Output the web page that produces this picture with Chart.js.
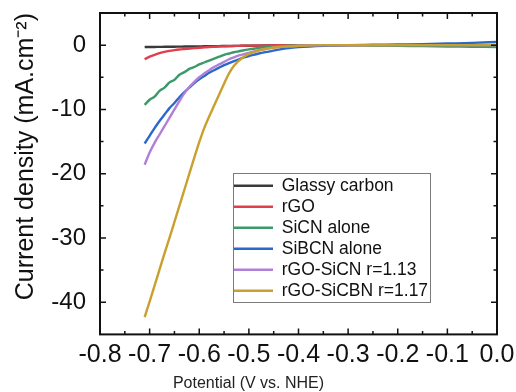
<!DOCTYPE html>
<html>
<head>
<meta charset="utf-8">
<script src="https://cdn.jsdelivr.net/npm/chart.js@4.4.0/dist/chart.umd.min.js"></script>
<style>
  html, body { margin: 0; padding: 0; background: #fff; }
</style>
</head>
<body>
<canvas id="lsv" width="516" height="392"></canvas>
<script>
// potential (V vs. NHE), shared by all sweeps
const potential = [-0.71, -0.70, -0.69, -0.68, -0.67, -0.66, -0.65, -0.64, -0.63, -0.62, -0.61,
  -0.60, -0.59, -0.58, -0.57, -0.56, -0.55, -0.54, -0.53, -0.52, -0.51, -0.50,
  -0.48, -0.46, -0.44, -0.42, -0.40, -0.35, -0.30, -0.25, -0.20, -0.15, -0.10, -0.05, 0.00];

// current density (mA.cm-2)
const glassyCarbon = [-0.30, -0.29, -0.28, -0.27, -0.26, -0.25, -0.24, -0.23, -0.22, -0.21, -0.20,
  -0.19, -0.18, -0.17, -0.16, -0.15, -0.14, -0.13, -0.12, -0.11, -0.10, -0.09,
  -0.07, -0.05, -0.03, -0.02, -0.01, 0, 0, 0, 0, 0, 0, 0, 0];
const rGO = [-2.2, -1.8, -1.5, -1.25, -1.05, -0.9, -0.78, -0.68, -0.6, -0.52, -0.46,
  -0.4, -0.35, -0.3, -0.26, -0.22, -0.19, -0.16, -0.13, -0.11, -0.09, -0.07,
  -0.05, -0.03, -0.02, -0.01, 0, 0, 0, 0, 0, 0, 0, 0, 0];
const sicnAlone = [-9.3, -8.5, -8.0, -7.1, -6.6, -5.8, -5.4, -4.6, -4.2, -3.7, -3.4,
  -3.0, -2.7, -2.4, -2.1, -1.8, -1.5, -1.3, -1.1, -0.95, -0.8, -0.65,
  -0.45, -0.3, -0.15, -0.1, -0.05, 0, 0, -0.05, -0.1, -0.15, -0.2, -0.25, -0.3];
const sibcnAlone = [-15.3, -14.1, -12.9, -11.8, -10.8, -9.8, -9.0, -8.1, -7.3, -6.6, -5.9,
  -5.3, -4.8, -4.3, -3.9, -3.5, -3.1, -2.8, -2.5, -2.2, -1.9, -1.7,
  -1.3, -1.0, -0.7, -0.45, -0.3, -0.1, 0, 0.05, 0.1, 0.15, 0.25, 0.35, 0.5];
const rgoSicn = [-18.6, -16.7, -15.2, -13.9, -12.6, -11.3, -10.0, -8.7, -7.5, -6.5, -5.7,
  -5.0, -4.4, -3.9, -3.4, -3.0, -2.6, -2.2, -1.9, -1.6, -1.4, -1.2,
  -0.8, -0.5, -0.3, -0.2, -0.1, 0, 0, 0, 0, 0, 0, 0, 0];
const rgoSicbn = [-42.3, -39.9, -37.4, -34.9, -32.4, -30.0, -27.5, -25.0, -22.5, -20.0, -17.5,
  -15.1, -12.9, -11.1, -9.4, -7.7, -6.0, -4.4, -3.2, -2.4, -1.8, -1.35,
  -0.8, -0.5, -0.3, -0.2, -0.1, 0, 0, 0, 0, 0, 0, 0, 0];

const seriesNames = ['Glassy carbon', 'rGO', 'SiCN alone', 'SiBCN alone', 'rGO-SiCN r=1.13', 'rGO-SiCBN r=1.17'];
const seriesData = [glassyCarbon, rGO, sicnAlone, sibcnAlone, rgoSicn, rgoSicbn];
const seriesColors = ['#3a3a3a', '#e0404c', '#3d9a68', '#2a68cc', '#b080d8', '#c9a030'];

const xTicks = [-0.8, -0.7, -0.6, -0.5, -0.4, -0.3, -0.2, -0.1, 0.0];
const yTicks = [-40, -30, -20, -10, 0];

const FONT = "'Liberation Sans', Arial, sans-serif";

// frame with inward major/minor ticks on all four sides
const frameTicks = {
  id: 'frameTicks',
  afterDatasetsDraw(chart) {
    const { ctx, chartArea: a, scales } = chart;
    const xs = scales.x, ys = scales.y;
    const major = 6, minor = 3.5;
    ctx.save();
    ctx.strokeStyle = '#111';
    ctx.lineWidth = 1.5;
    ctx.beginPath();
    const vtick = (px, len) => {
      ctx.moveTo(px, a.bottom); ctx.lineTo(px, a.bottom - len);
      ctx.moveTo(px, a.top); ctx.lineTo(px, a.top + len);
    };
    const htick = (py, len) => {
      ctx.moveTo(a.left, py); ctx.lineTo(a.left + len, py);
      ctx.moveTo(a.right, py); ctx.lineTo(a.right - len, py);
    };
    xTicks.forEach((v, i) => {
      vtick(xs.getPixelForValue(v), major);
      if (i > 0) vtick(xs.getPixelForValue((v + xTicks[i - 1]) / 2), minor);
    });
    yTicks.forEach((v, i) => {
      htick(ys.getPixelForValue(v), major);
      if (i > 0) htick(ys.getPixelForValue((v + yTicks[i - 1]) / 2), minor);
    });
    ctx.stroke();
    ctx.lineWidth = 2;
    ctx.strokeRect(a.left, a.top, a.right - a.left, a.bottom - a.top);
    ctx.restore();
  }
};

// move the legend into the plot and give it a frame
const legendBox = {
  id: 'legendBox',
  afterLayout(chart) {
    chart.legend.left = 230.5;
    chart.legend.top = 173.5;
  },
  beforeDatasetsDraw(chart) {
    const ctx = chart.ctx;
    ctx.save();
    ctx.strokeStyle = '#7a7a7a';
    ctx.lineWidth = 1;
    ctx.strokeRect(233.5, 173.5, 197, 129);
    ctx.restore();
  }
};

new Chart(document.getElementById('lsv'), {
  type: 'line',
  data: {
    datasets: seriesNames.map((name, i) => ({
      label: name,
      data: potential.map((p, j) => ({ x: p, y: seriesData[i][j] })),
      borderColor: seriesColors[i],
      backgroundColor: seriesColors[i],
      borderWidth: 2.4,
      pointRadius: 0,
      cubicInterpolationMode: 'monotone',
      order: seriesNames.length - i
    }))
  },
  options: {
    responsive: false,
    animation: false,
    layout: { padding: { top: 13, right: 19, left: 0, bottom: 0 } },
    scales: {
      x: {
        type: 'linear',
        min: -0.8,
        max: 0.0,
        afterBuildTicks: s => { s.ticks = xTicks.map(v => ({ value: v })); },
        afterFit: s => { s.height = 40.8; s.paddingLeft = 0; s.paddingRight = 0; },
        grid: { display: false },
        border: { display: false },
        ticks: {
          padding: -2,
          color: '#111',
          font: { family: FONT, size: 25 },
          callback: v => v.toFixed(1)
        }
      },
      y: {
        min: -45,
        max: 5,
        afterBuildTicks: s => { s.ticks = yTicks.map(v => ({ value: v })); },
        afterFit: s => { s.width = 100; s.paddingTop = 0; s.paddingBottom = 0; },
        grid: { display: false },
        border: { display: false },
        ticks: {
          padding: 6,
          color: '#111',
          font: { family: FONT, size: 24 }
        },
        title: {
          display: true,
          text: 'Current density (mA.cm⁻²)',
          align: 'end',
          color: '#111',
          font: { family: FONT, size: 25 },
          padding: { top: 11, bottom: 0 }
        }
      }
    },
    plugins: {
      legend: {
        position: 'chartArea',
        align: 'start',
        labels: {
          usePointStyle: true,
          pointStyle: 'line',
          pointStyleWidth: 39,
          padding: 3.5,
          color: '#111',
          font: { family: FONT, size: 17.5 },
          sort: (a, b) => a.datasetIndex - b.datasetIndex
        }
      },
      title: {
        display: true,
        position: 'bottom',
        text: 'Potential (V vs. NHE)',
        color: '#222',
        font: { family: FONT, size: 16, weight: 'normal', lineHeight: 1.05 },
        padding: { top: 0, bottom: 0 }
      },
      tooltip: { enabled: false }
    }
  },
  plugins: [frameTicks, legendBox]
});
</script>
</body>
</html>
